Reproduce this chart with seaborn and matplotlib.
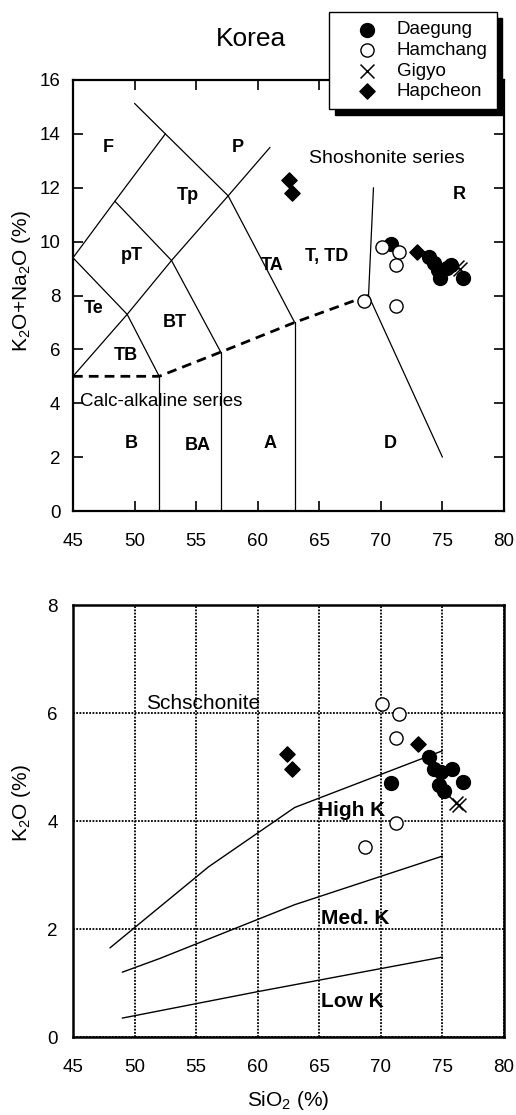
import matplotlib
matplotlib.use("Agg")
import matplotlib.pyplot as plt
import seaborn as sns
import pandas as pd

# ---------------- data ----------------
# TAS diagram (top)
daegung_tas_sio2 = [70.8, 73.9, 74.3, 74.6, 74.8, 75.4, 75.7, 76.7]
daegung_tas_alk = [9.92, 9.44, 9.2, 8.96, 8.66, 9.03, 9.15, 8.66]
hamchang_tas_sio2 = [70.1, 71.5, 71.2, 68.6, 71.2]
hamchang_tas_alk = [9.8, 9.63, 9.15, 7.78, 7.62]
gigyo_tas_sio2 = [76.2, 76.4]
gigyo_tas_alk = [9.05, 9.0]
hapcheon_tas_sio2 = [62.5, 62.8, 72.9]
hapcheon_tas_alk = [12.27, 11.8, 9.63]

# K2O vs SiO2 (bottom)
daegung_k_sio2 = [70.8, 73.9, 74.3, 74.9, 75.8, 74.7, 75.1, 76.7]
daegung_k_k2o = [4.70, 5.19, 4.96, 4.91, 4.96, 4.67, 4.56, 4.73]
hamchang_k_sio2 = [70.1, 71.5, 71.2, 71.2, 68.7]
hamchang_k_k2o = [6.17, 5.99, 5.54, 3.96, 3.52]
gigyo_k_sio2 = [76.1, 76.35]
gigyo_k_k2o = [4.33, 4.30]
hapcheon_k_sio2 = [62.4, 62.8, 73.0]
hapcheon_k_k2o = [5.24, 4.96, 5.43]

# TAS field boundaries
tas_boundaries = [
    ([52, 52], [0, 5]),
    ([57, 57], [0, 5.9]),
    ([63, 63], [0, 7]),
    ([45, 49.4, 53, 57.6, 61], [5, 7.3, 9.3, 11.7, 13.5]),
    ([45, 49.4, 52], [9.4, 7.3, 5]),
    ([45, 48.4, 52.5], [9.4, 11.5, 14]),
    ([48.4, 53, 57], [11.5, 9.3, 5.9]),
    ([50, 52.5, 57.6, 63], [15.13, 14, 11.7, 7]),
    ([69, 69.4], [8, 12]),
    ([69, 75], [8, 2]),
]
alkaline_divide_sio2 = [45, 52, 57, 63, 69]
alkaline_divide_alk = [5, 5, 5.9, 7, 8]

tas_field_names = ["F", "P", "Tp", "pT", "TA", "Te", "BT", "TB", "B", "BA", "A", "D", "T, TD", "R"]
tas_field_sio2 = [47.9, 58.4, 54.3, 49.8, 61.2, 46.7, 53.3, 49.3, 49.7, 55.1, 61.0, 70.8, 65.6, 76.4]
tas_field_alk = [13.5, 13.5, 11.7, 9.5, 9.1, 7.5, 7.0, 5.76, 2.5, 2.45, 2.5, 2.5, 9.44, 11.75]

# K2O series boundaries
high_k_sio2 = [48, 56, 63, 75]
high_k_k2o = [1.65, 3.15, 4.25, 5.3]
med_k_sio2 = [49, 52, 63, 75]
med_k_k2o = [1.2, 1.45, 2.45, 3.35]
low_k_sio2 = [49, 60, 75]
low_k_k2o = [0.35, 0.84, 1.48]

x_ticks = [45, 50, 55, 60, 65, 70, 75, 80]
tas_y_ticks = [0, 2, 4, 6, 8, 10, 12, 14, 16]
k_y_ticks = [0, 2, 4, 6, 8]

# ---------------- style ----------------
sns.set_theme(style="ticks")
plt.rcParams["font.family"] = ["Liberation Sans", "DejaVu Sans"]
plt.rcParams["mathtext.default"] = "regular"
plt.rcParams["text.color"] = "black"
plt.rcParams["axes.labelcolor"] = "black"
plt.rcParams["xtick.color"] = "black"
plt.rcParams["ytick.color"] = "black"
plt.rcParams["xtick.labelcolor"] = "black"
plt.rcParams["ytick.labelcolor"] = "black"

W, H = 516, 1115
fig = plt.figure(figsize=(W / 100, H / 100), dpi=100)

def axrect(l, t, r, b):
    return [l / W, 1 - b / H, (r - l) / W, (b - t) / H]

ax1 = fig.add_axes(axrect(73, 80, 504, 511))
ax2 = fig.add_axes(axrect(73, 605, 504, 1037))

groups = [
    ("Daegung", dict(marker="o", facecolor="black", edgecolor="black", s=100, linewidth=1)),
    ("Hamchang", dict(marker="o", facecolor="white", edgecolor="black", s=90, linewidth=1)),
    ("Gigyo", dict(marker="x", color="black", s=100, linewidth=1.1)),
    ("Hapcheon", dict(marker="D", facecolor="black", edgecolor="black", s=60, linewidth=1)),
]
tas_data = {
    "Daegung": (daegung_tas_sio2, daegung_tas_alk),
    "Hamchang": (hamchang_tas_sio2, hamchang_tas_alk),
    "Gigyo": (gigyo_tas_sio2, gigyo_tas_alk),
    "Hapcheon": (hapcheon_tas_sio2, hapcheon_tas_alk),
}
k_data = {
    "Daegung": (daegung_k_sio2, daegung_k_k2o),
    "Hamchang": (hamchang_k_sio2, hamchang_k_k2o),
    "Gigyo": (gigyo_k_sio2, gigyo_k_k2o),
    "Hapcheon": (hapcheon_k_sio2, hapcheon_k_k2o),
}

# ---------------- top: TAS ----------------
for xs, ys in tas_boundaries:
    ax1.plot(xs, ys, color="black", lw=0.9, zorder=2)
ax1.plot(alkaline_divide_sio2, alkaline_divide_alk, color="black", lw=2.0,
         linestyle=(0, (3.5, 2.2)), zorder=2)

for name, xs, ys in zip(tas_field_names, tas_field_sio2, tas_field_alk):
    ax1.text(xs, ys, name, ha="center", va="center", fontsize=13, fontweight="bold",
             color="black")
ax1.text(70.5, 13.1, "Shoshonite series", ha="center", va="center", fontsize=14, color="black")
ax1.text(45.55, 4.05, "Calc-alkaline series", ha="left", va="center", fontsize=13.5,
         color="black")

for name, kw in groups:
    xs, ys = tas_data[name]
    df = pd.DataFrame({"SiO2": xs, "val": ys})
    sns.scatterplot(data=df, x="SiO2", y="val", ax=ax1, label=name, zorder=4, **kw)

ax1.set_xlim(45, 80)
ax1.set_ylim(0, 16)
ax1.set_xticks(x_ticks)
ax1.set_yticks(tas_y_ticks)
ax1.tick_params(axis="both", direction="in", length=7, width=1.2, labelsize=13.5,
                top=True, right=True, color="black", labelcolor="black")
ax1.tick_params(axis="x", pad=16)
ax1.tick_params(axis="y", pad=9)
for sp in ax1.spines.values():
    sp.set_visible(True)
    sp.set_linewidth(1.6)
    sp.set_color("black")
ax1.set_xlabel("")
ax1.set_ylabel("K$_2$O+Na$_2$O (%)", fontsize=15, color="black")
ax1.yaxis.set_label_coords((33 - 73) / 431, (511 - 281) / 431)

# ---------------- bottom: K2O ----------------
ax2.plot(high_k_sio2, high_k_k2o, color="black", lw=1.0, zorder=2)
ax2.plot(med_k_sio2, med_k_k2o, color="black", lw=1.0, zorder=2)
ax2.plot(low_k_sio2, low_k_k2o, color="black", lw=1.0, zorder=2)

ax2.text(50.9, 6.17, "Schschonite", ha="left", va="center", fontsize=15, color="black")
ax2.text(64.9, 4.19, "High K", ha="left", va="center", fontsize=15, fontweight="bold",
         color="black")
ax2.text(65.15, 2.2, "Med. K", ha="left", va="center", fontsize=15, fontweight="bold",
         color="black")
ax2.text(65.15, 0.65, "Low K", ha="left", va="center", fontsize=15, fontweight="bold",
         color="black")

for name, kw in groups:
    xs, ys = k_data[name]
    df = pd.DataFrame({"SiO2": xs, "val": ys})
    sns.scatterplot(data=df, x="SiO2", y="val", ax=ax2, zorder=4, legend=False, **kw)

ax2.set_xlim(45, 80)
ax2.set_ylim(0, 8)
ax2.set_xticks(x_ticks)
ax2.set_yticks(k_y_ticks)
ax2.grid(True, color="black", linestyle=(0, (1, 0.8)), linewidth=1.3, zorder=1)
ax2.set_axisbelow(True)
ax2.tick_params(axis="both", direction="in", length=0, labelsize=13.5, color="black",
                labelcolor="black")
ax2.tick_params(axis="x", pad=16)
ax2.tick_params(axis="y", pad=11)
for sp in ax2.spines.values():
    sp.set_visible(True)
    sp.set_linewidth(1.8)
    sp.set_color("black")
ax2.set_xlabel("SiO$_2$ (%)", fontsize=15, color="black")
ax2.xaxis.set_label_coords(0.5, (1037 - 1089) / 432)
ax2.set_ylabel("K$_2$O (%)", fontsize=15, color="black")
ax2.yaxis.set_label_coords((33 - 73) / 431, (1037 - 803) / 432)

# title
fig.text(251.5 / W, 1 - 39 / H, "Korea", ha="center", va="center", fontsize=19, color="black")

# legend
handles, labels = ax1.get_legend_handles_labels()
if ax1.get_legend() is not None:
    ax1.get_legend().remove()
leg = fig.legend(handles, labels, loc="upper left",
                 bbox_to_anchor=(329 / W, 1 - 12 / H), borderaxespad=0,
                 frameon=True, fancybox=False, framealpha=1,
                 edgecolor="black", facecolor="white",
                 shadow={"color": "black", "alpha": 1, "ox": 4, "oy": -4},
                 fontsize=13.5, labelspacing=0.18, handlelength=3.0,
                 handletextpad=0.1, borderpad=0.5, labelcolor="black")
leg.get_frame().set_linewidth(1.0)
leg.set_zorder(10)

fig.savefig("out.png", dpi=100)
